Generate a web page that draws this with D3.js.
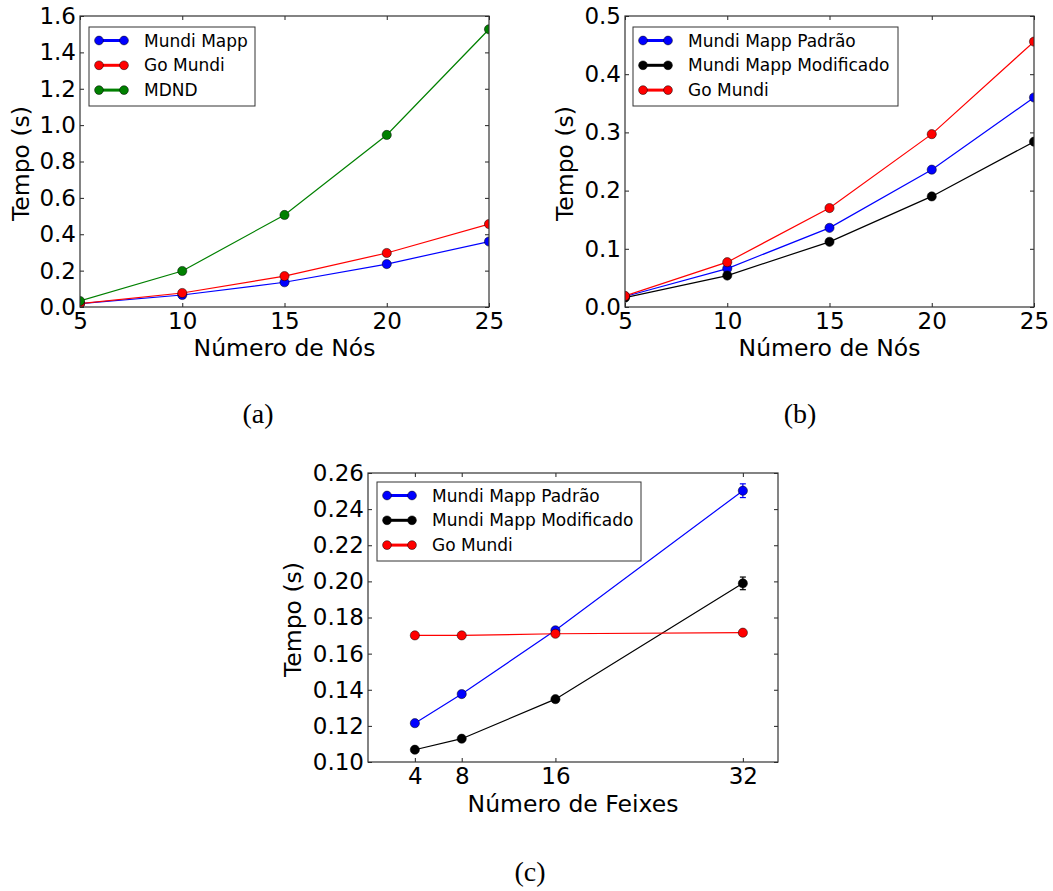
<!DOCTYPE html>
<html lang="en">
<head>
  <meta charset="utf-8">
  <title>Tempo vs Número de Nós / Feixes</title>
  <script src="https://d3js.org/d3.v7.min.js"></script>
  <style>
    body {
      margin: 0;
      background: white;
      font-family: "DejaVu Sans", sans-serif;
    }
    svg {
      display: block;
    }
    .caption {
      font-family: "Liberation Serif", "Times New Roman", serif;
      font-size: 28px;
    }
  </style>
</head>
<body>
  <svg width="1053" height="891"></svg>

  <script>
  // --- data ---
  const nodes = [5, 10, 15, 20, 25];
  const mundiMapp = [0.018, 0.066, 0.136, 0.236, 0.36];
  const mundiMappMod = [0.016, 0.054, 0.112, 0.19, 0.284];
  const goMundi = [0.019, 0.077, 0.170, 0.297, 0.456];
  const mdnd = [0.033, 0.198, 0.506, 0.946, 1.527];

  const beams = [4, 8, 16, 32];
  const beamPadrao = [0.1215, 0.1376, 0.1729, 0.2502];
  const beamPadraoErr = [0.0008, 0.001, 0.0012, 0.0038];
  const beamMod = [0.1068, 0.1129, 0.1348, 0.1989];
  const beamModErr = [0.0006, 0.0008, 0.001, 0.0035];
  const beamGo = [0.1701, 0.1701, 0.171, 0.1716];
  const beamGoErr = [0.0005, 0.0005, 0.0006, 0.0006];

  const ticksA = [0, 0.2, 0.4, 0.6, 0.8, 1.0, 1.2, 1.4, 1.6];
  const ticksB = [0, 0.1, 0.2, 0.3, 0.4, 0.5];
  const ticksC = [0.10, 0.12, 0.14, 0.16, 0.18, 0.20, 0.22, 0.24, 0.26];
  const ticksNodes = [5, 10, 15, 20, 25];

  const svg = d3.select("svg");

  function drawPanel(p) {
    const x = d3.scaleLinear().domain(p.xDomain).range([p.left, p.right]);
    const y = d3.scaleLinear().domain(p.yDomain).range([p.bottom, p.top]);
    const g = svg.append("g");

    const clipId = "clip-" + p.id;
    g.append("clipPath").attr("id", clipId)
      .append("rect")
      .attr("x", p.left).attr("y", p.top)
      .attr("width", p.right - p.left).attr("height", p.bottom - p.top);

    // axes with inward ticks on all four sides
    const styleAxis = sel => {
      sel.select(".domain").remove();
      sel.selectAll(".tick line").attr("stroke", "#222").attr("stroke-width", 1);
      sel.selectAll("text").attr("font-family", "DejaVu Sans").attr("font-size", 23).attr("fill", "#000");
    };
    g.append("g").attr("transform", `translate(0,${p.bottom})`)
      .call(d3.axisBottom(x).tickValues(p.xTicks).tickSizeInner(-4).tickSizeOuter(0).tickPadding(6).tickFormat(d3.format("d")))
      .call(styleAxis);
    g.append("g").attr("transform", `translate(0,${p.top})`)
      .call(d3.axisTop(x).tickValues(p.xTicks).tickSizeInner(-4).tickSizeOuter(0).tickFormat(""))
      .call(styleAxis);
    g.append("g").attr("transform", `translate(${p.left},0)`)
      .call(d3.axisLeft(y).tickValues(p.yTicks).tickSizeInner(-4).tickSizeOuter(0).tickPadding(4).tickFormat(d3.format(p.yFormat)))
      .call(styleAxis);
    g.append("g").attr("transform", `translate(${p.right},0)`)
      .call(d3.axisRight(y).tickValues(p.yTicks).tickSizeInner(-4).tickSizeOuter(0).tickFormat(""))
      .call(styleAxis);

    const plot = g.append("g").attr("clip-path", `url(#${clipId})`);
    const line = d3.line().x(d => x(d[0])).y(d => y(d[1]));

    p.series.forEach(s => {
      const pts = p.xs.map((v, i) => [v, s.values[i], s.err ? s.err[i] : 0]);
      plot.append("path")
        .datum(pts)
        .attr("fill", "none")
        .attr("stroke", s.color)
        .attr("stroke-width", 1.2)
        .attr("d", line);
      if (s.err) {
        const eb = plot.append("g").attr("stroke", s.color).attr("stroke-width", 1.2);
        pts.forEach(d => {
          eb.append("line").attr("x1", x(d[0])).attr("x2", x(d[0]))
            .attr("y1", y(d[1] - d[2])).attr("y2", y(d[1] + d[2]));
          [d[1] - d[2], d[1] + d[2]].forEach(v => {
            eb.append("line").attr("x1", x(d[0]) - 3).attr("x2", x(d[0]) + 3)
              .attr("y1", y(v)).attr("y2", y(v));
          });
        });
      }
      plot.selectAll(null)
        .data(pts)
        .enter().append("circle")
        .attr("cx", d => x(d[0]))
        .attr("cy", d => y(d[1]))
        .attr("r", 4.6)
        .attr("fill", s.color)
        .attr("stroke", "#000")
        .attr("stroke-width", 0.5);
    });

    // frame
    g.append("rect")
      .attr("x", p.left).attr("y", p.top)
      .attr("width", p.right - p.left).attr("height", p.bottom - p.top)
      .attr("fill", "none").attr("stroke", "#333").attr("stroke-width", 1.2);

    // axis labels
    g.append("text")
      .attr("x", (p.left + p.right) / 2)
      .attr("y", p.xLabelY)
      .attr("text-anchor", "middle")
      .attr("font-size", 23.5)
      .text(p.xLabel);
    g.append("text")
      .attr("transform", `translate(${p.yLabelX},${(p.top + p.bottom) / 2 + 2}) rotate(-90)`)
      .attr("text-anchor", "middle")
      .attr("font-size", 23.5)
      .text("Tempo (s)");

    // legend
    const lg = g.append("g");
    lg.append("rect")
      .attr("x", p.legend.x).attr("y", p.legend.y)
      .attr("width", p.legend.w).attr("height", p.legend.h)
      .attr("fill", "white").attr("stroke", "#333").attr("stroke-width", 1);
    p.series.forEach((s, i) => {
      const ry = p.legend.y + 13.5 + i * 24.8;
      const x0 = p.legend.x + 10, x1 = x0 + 25;
      lg.append("line").attr("x1", x0).attr("x2", x1).attr("y1", ry).attr("y2", ry)
        .attr("stroke", s.color).attr("stroke-width", 3);
      [x0, x1].forEach(cx => lg.append("circle").attr("cx", cx).attr("cy", ry).attr("r", 4.4)
        .attr("fill", s.color).attr("stroke", "#000").attr("stroke-width", 0.5));
      lg.append("text")
        .attr("x", p.legend.x + 55)
        .attr("y", ry + 6)
        .attr("font-size", 17)
        .text(s.name);
    });

    svg.append("text")
      .attr("class", "caption")
      .attr("x", p.caption[0]).attr("y", p.caption[1])
      .attr("text-anchor", "middle")
      .text(p.captionText);
  }

  drawPanel({
    id: "a", left: 80, right: 489, top: 16, bottom: 307,
    xDomain: [5, 25], yDomain: [0, 1.6], xs: nodes, xTicks: ticksNodes, yTicks: ticksA, yFormat: ".1f",
    xLabel: "Número de Nós", xLabelY: 356, yLabelX: 29,
    legend: { x: 89, y: 27, w: 166, h: 79 },
    caption: [258, 423], captionText: "(a)",
    series: [
      { name: "Mundi Mapp", color: "#0000ff", values: mundiMapp },
      { name: "Go Mundi", color: "#ff0000", values: goMundi },
      { name: "MDND", color: "#008000", values: mdnd }
    ]
  });

  drawPanel({
    id: "b", left: 625, right: 1034, top: 16, bottom: 307,
    xDomain: [5, 25], yDomain: [0, 0.5], xs: nodes, xTicks: ticksNodes, yTicks: ticksB, yFormat: ".1f",
    xLabel: "Número de Nós", xLabelY: 356, yLabelX: 573,
    legend: { x: 633, y: 27, w: 265, h: 79 },
    caption: [800, 423], captionText: "(b)",
    series: [
      { name: "Mundi Mapp Padrão", color: "#0000ff", values: mundiMapp },
      { name: "Mundi Mapp Modificado", color: "#000000", values: mundiMappMod },
      { name: "Go Mundi", color: "#ff0000", values: goMundi }
    ]
  });

  drawPanel({
    id: "c", left: 368, right: 778, top: 473, bottom: 762,
    xDomain: [0, 35], yDomain: [0.10, 0.26], xs: beams, xTicks: beams, yTicks: ticksC, yFormat: ".2f",
    xLabel: "Número de Feixes", xLabelY: 812, yLabelX: 301,
    legend: { x: 377, y: 482, w: 264, h: 79 },
    caption: [530, 881], captionText: "(c)",
    series: [
      { name: "Mundi Mapp Padrão", color: "#0000ff", values: beamPadrao, err: beamPadraoErr },
      { name: "Mundi Mapp Modificado", color: "#000000", values: beamMod, err: beamModErr },
      { name: "Go Mundi", color: "#ff0000", values: beamGo, err: beamGoErr }
    ]
  });
  </script>
</body>
</html>
